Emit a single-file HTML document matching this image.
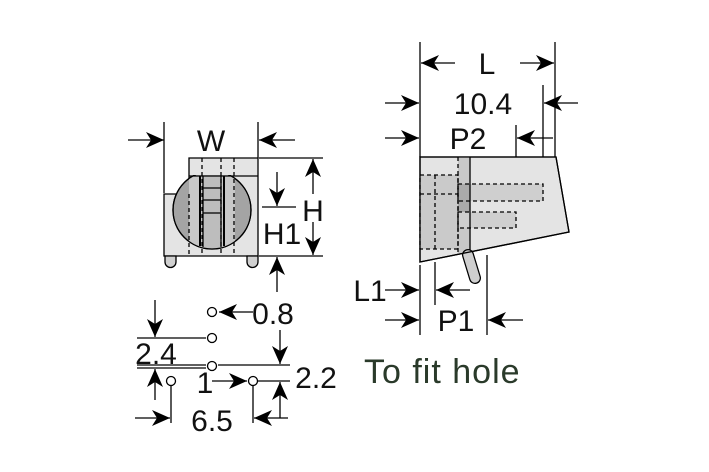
<!DOCTYPE html>
<html><head><meta charset="utf-8"><style>
html,body{margin:0;padding:0;background:#fff;}
svg{display:block;font-family:"Liberation Sans",sans-serif;}
</style></head><body>
<svg width="709" height="472" viewBox="0 0 709 472" xmlns="http://www.w3.org/2000/svg">
<defs>
<marker id="a" markerUnits="userSpaceOnUse" markerWidth="20" markerHeight="16" refX="18" refY="8" orient="auto">
<path d="M0,0 L18,8 L0,16 L5,8 Z" fill="#000"/>
</marker>
<clipPath id="cc"><rect x="160" y="175" width="110" height="90"/></clipPath>
<clipPath id="cir"><circle cx="212" cy="210" r="39"/></clipPath>
</defs>
<g stroke="#000" stroke-width="1.3" fill="none">
<polygon points="189,158 258,158 258,256 164,256 164,194 189,194" fill="#e4e4e4"/>
<path d="M165,256 L176,256 L176,262 A5.5,5.5 0 0 1 165,262 Z" fill="#d0d0d0"/>
<path d="M247,256 L258,256 L258,262 A5.5,5.5 0 0 1 247,262 Z" fill="#d0d0d0"/>
<g clip-path="url(#cc)">
<circle cx="212" cy="210" r="39" fill="#a4a4a4"/>
<g clip-path="url(#cir)">
<rect x="189" y="170" width="46" height="90" fill="#c8c8c8" stroke="none"/>
<rect x="202" y="170" width="19" height="90" fill="#bdbdbd" stroke="none"/>
</g>
<circle cx="212" cy="210" r="39" fill="none"/>
</g>
<line x1="200" y1="176" x2="200" y2="246" stroke-width="2"/>
<line x1="203" y1="176" x2="203" y2="247"/>
<line x1="221" y1="176" x2="221" y2="247"/>
<line x1="224" y1="176" x2="224" y2="246" stroke-width="2"/>
<line x1="203" y1="188" x2="221" y2="188"/>
<line x1="203" y1="200" x2="221" y2="200"/>
<line x1="203" y1="213" x2="221" y2="213"/>
<line x1="189" y1="176" x2="258" y2="176"/>
<g stroke-dasharray="4,3">
<line x1="189" y1="194" x2="189" y2="256"/>
<line x1="202" y1="158" x2="202" y2="256"/>
<line x1="221" y1="158" x2="221" y2="256"/>
<line x1="234" y1="158" x2="234" y2="256"/>
</g>
<line x1="164" y1="122" x2="164" y2="193"/>
<line x1="258" y1="122" x2="258" y2="158"/>
<line x1="128" y1="140" x2="164" y2="140" marker-end="url(#a)"/>
<line x1="295" y1="140" x2="259" y2="140" marker-end="url(#a)"/>
<line x1="259" y1="158" x2="323" y2="158"/>
<line x1="259" y1="256" x2="323" y2="256"/>
<line x1="313" y1="194" x2="313" y2="159" marker-end="url(#a)"/>
<line x1="313" y1="222" x2="313" y2="255" marker-end="url(#a)"/>
<line x1="262" y1="207" x2="296" y2="207"/>
<line x1="277" y1="172" x2="277" y2="206" marker-end="url(#a)"/>
<line x1="277" y1="292" x2="277" y2="257" marker-end="url(#a)"/>

<polygon points="420,157 556,157 569,232 420,262" fill="#e4e4e4"/>
<rect x="420" y="175" width="38" height="74" fill="#cacaca" stroke="none"/>
<rect x="458" y="157" width="12" height="96" fill="#c8c8c8" stroke="none"/>
<rect x="458" y="184" width="85" height="17" fill="#cfcfcf" stroke="none"/>
<rect x="458" y="212" width="58" height="16" fill="#cfcfcf" stroke="none"/>
<rect x="458" y="184" width="12" height="17" fill="#aaa" stroke="none"/>
<rect x="458" y="201" width="12" height="11" fill="#aaa" stroke="none"/>
<line x1="470" y1="157" x2="470" y2="250"/>
<g stroke-dasharray="4,3">
<rect x="420" y="175" width="38" height="74"/>
<line x1="435" y1="175" x2="435" y2="249"/>
<line x1="420" y1="194" x2="458" y2="194"/>
<line x1="458" y1="157" x2="458" y2="252"/>
<rect x="458" y="184" width="85" height="17"/>
<rect x="458" y="212" width="58" height="16"/>
</g>
<line x1="468" y1="255" x2="475" y2="278" stroke="#000" stroke-width="12" stroke-linecap="round"/>
<line x1="468" y1="255" x2="475" y2="278" stroke="#cfcfcf" stroke-width="9.5" stroke-linecap="round"/>
<polygon points="420,157 556,157 569,232 420,262"/>
<line x1="420" y1="42" x2="420" y2="157"/>
<line x1="555" y1="42" x2="555" y2="157"/>
<line x1="455" y1="63" x2="421" y2="63" marker-end="url(#a)"/>
<line x1="520" y1="63" x2="554" y2="63" marker-end="url(#a)"/>
<line x1="543" y1="85" x2="543" y2="157"/>
<line x1="385" y1="103" x2="419" y2="103" marker-end="url(#a)"/>
<line x1="578" y1="103" x2="544" y2="103" marker-end="url(#a)"/>
<line x1="516" y1="125" x2="516" y2="157"/>
<line x1="385" y1="138" x2="419" y2="138" marker-end="url(#a)"/>
<line x1="553" y1="138" x2="517" y2="138" marker-end="url(#a)"/>
<line x1="420" y1="265" x2="420" y2="335"/>
<line x1="435" y1="262" x2="435" y2="305"/>
<line x1="487" y1="255" x2="487" y2="335"/>
<line x1="385" y1="290" x2="419" y2="290" marker-end="url(#a)"/>
<line x1="470" y1="290" x2="436" y2="290" marker-end="url(#a)"/>
<line x1="385" y1="320" x2="419" y2="320" marker-end="url(#a)"/>
<line x1="523" y1="320" x2="488" y2="320" marker-end="url(#a)"/>

<line x1="137" y1="338" x2="206" y2="338"/>
<line x1="137" y1="365" x2="206" y2="365"/>
<line x1="218" y1="365" x2="290" y2="365"/>
<line x1="137" y1="368" x2="206" y2="368"/>
<line x1="258" y1="381" x2="290" y2="381"/>
<line x1="253" y1="312" x2="219" y2="312" marker-end="url(#a)"/>
<line x1="155" y1="300" x2="155" y2="337" marker-end="url(#a)"/>
<line x1="155" y1="400" x2="155" y2="369" marker-end="url(#a)"/>
<line x1="280" y1="330" x2="280" y2="364" marker-end="url(#a)"/>
<line x1="280" y1="418" x2="280" y2="382" marker-end="url(#a)"/>
<line x1="212" y1="381" x2="247" y2="381" marker-end="url(#a)"/>
<line x1="171" y1="386" x2="171" y2="423"/>
<line x1="253" y1="386" x2="253" y2="423"/>
<line x1="135" y1="418" x2="170" y2="418" marker-end="url(#a)"/>
<line x1="288" y1="418" x2="254" y2="418" marker-end="url(#a)"/>
<g fill="#fff">
<circle cx="212" cy="312" r="4.5"/>
<circle cx="212" cy="338" r="4.5"/>
<circle cx="212" cy="366" r="4.5"/>
<circle cx="171" cy="381" r="4.5"/>
<circle cx="253" cy="381" r="4.5"/>
</g>
</g>
<g font-size="30" fill="#111" text-anchor="middle">
<text x="211" y="151">W</text>
<text x="313" y="221">H</text>
<text x="282" y="244">H1</text>
<text x="487" y="74">L</text>
<text x="483" y="114">10.4</text>
<text x="468" y="149">P2</text>
<text x="370" y="301">L1</text>
<text x="456" y="331">P1</text>
<text x="273" y="324">0.8</text>
<text x="156" y="364">2.4</text>
<text x="205" y="393">1</text>
<text x="316" y="388">2.2</text>
<text x="212" y="431">6.5</text>
</g>
<text x="364" y="383" font-size="34" letter-spacing="1" fill="#2a3a2a">To fit hole</text>
</svg>
</body></html>
